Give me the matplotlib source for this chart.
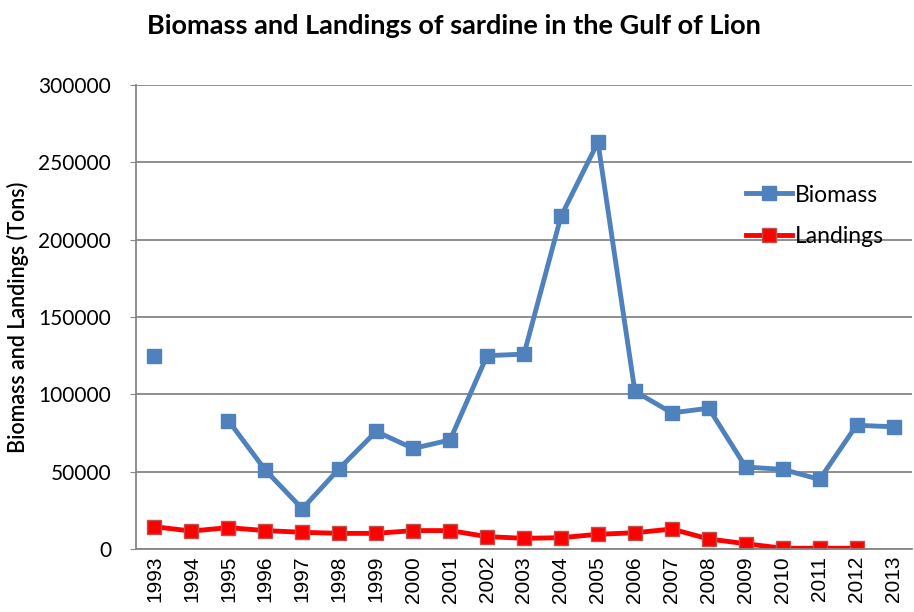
import numpy as np
from matplotlib import pyplot as plt

years = [str(y) for y in range(1993, 2014)]
biomass = [125000, np.nan, 83000, 51000, 26000, 52000, 76000, 65000, 70500,
           125000, 126000, 215000, 263000, 102000, 88000, 91000, 53000,
           51500, 45000, 80000, 79000]
landings = [14400, 11600, 13800, 11900, 10800, 10100, 10100, 11900, 11900,
            8000, 6900, 7300, 9500, 10500, 12900, 6500, 3400, 500, 500, 500,
            np.nan]
yticks = [0, 50000, 100000, 150000, 200000, 250000, 300000]

fig = plt.figure(figsize=(9.14, 6.12), dpi=100)
ax = fig.add_axes([136 / 914, 1 - 549 / 612, 776 / 914, 464 / 612])

x = np.arange(len(years))
ax.plot(x, biomass, color="#4F81BD", lw=3.5, marker="s", markersize=10.5,
        markerfacecolor="#4F81BD", markeredgecolor="#4F81BD", label="Biomass")
ax.plot(x, landings, color="#FF0000", lw=3.5, marker="s", markersize=10.5,
        markerfacecolor="#FF0000", markeredgecolor="#C0504D", label="Landings")

ax.set_xlim(-0.5, len(years) - 0.5)
ax.set_ylim(0, 300000)
ax.set_yticks(yticks)
ax.set_yticklabels([str(v) for v in yticks], fontsize=15, family="Lato")
ax.set_xticks(x)
ax.set_xticklabels(years, rotation=90, fontsize=15, family="Liberation Sans")
ax.tick_params(axis="y", length=4, color="#868686", pad=14)
ax.tick_params(axis="x", length=0, pad=5)
ax.yaxis.grid(True, color="#868686", lw=1.3)
ax.set_axisbelow(True)
for s in ["top", "right"]:
    ax.spines[s].set_visible(False)
for s in ["left", "bottom"]:
    ax.spines[s].set_color("#868686")
    ax.spines[s].set_linewidth(1.3)

ax.set_ylabel("Biomass and Landings (Tons)", fontsize=15.5, family="Lato",
              fontweight="semibold", va="center")
ax.yaxis.set_label_coords(-0.152, 0.5)
fig.text(0.497, 0.958, "Biomass and Landings of sardine in the Gulf of Lion",
         ha="center", va="center", fontsize=19.5, family="Lato", fontweight="bold")

ax.legend(loc="upper left", bbox_to_anchor=(0.76, 0.83), frameon=False,
          prop={"family": "Lato", "size": 16.5}, handlelength=2.0,
          handletextpad=0.1, labelspacing=0.9)

fig.savefig("out.png", dpi=100)
